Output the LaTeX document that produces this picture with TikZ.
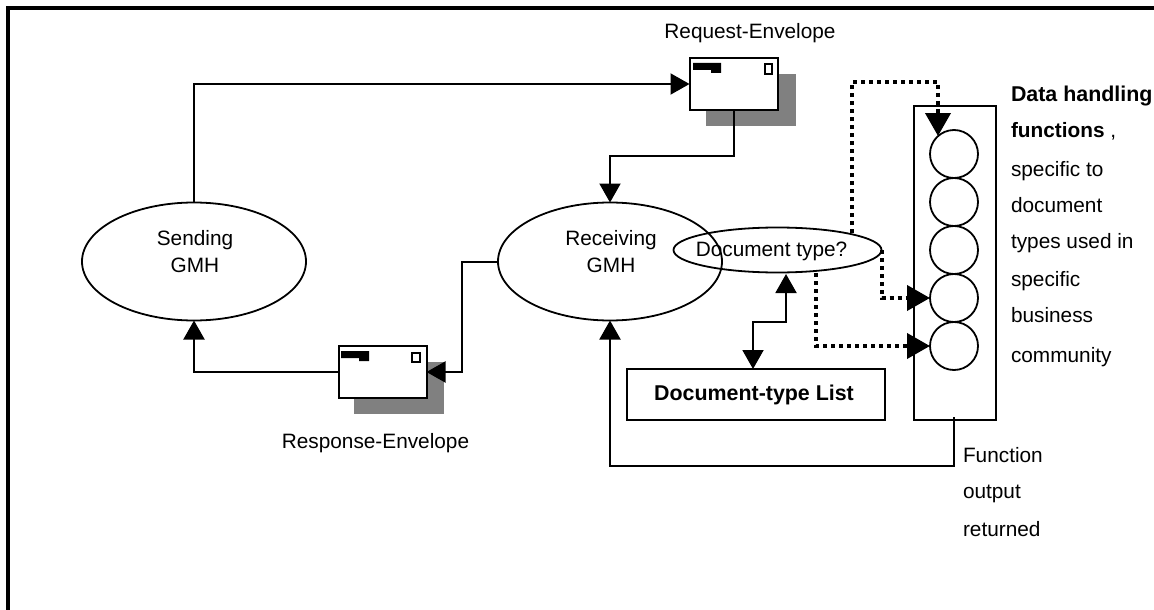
\documentclass[tikz,border=0pt]{standalone}
\usepackage{fontspec}
\setmainfont{Liberation Sans}
\usetikzlibrary{arrows.meta,shapes.geometric}
\tikzset{
    every node/.style={outer sep=0pt},
    line/.style={draw,line width=2pt},
    tip/.style={-{Triangle[length=19pt,width=21pt]}},
    tips/.style={{Triangle[length=19pt,width=21pt]}-{Triangle[length=19pt,width=21pt]}},
    dots/.style={draw,line width=4pt,dash pattern=on 4pt off 4pt,-{Triangle[length=23pt,width=25pt]}},
    oval/.style={draw,ellipse,line width=1.8pt,inner sep=0pt},
    func/.style={draw,circle,line width=1.8pt,minimum size=48pt,inner sep=0pt},
    envelope/.style={draw,line width=2pt,fill=white,minimum width=88pt,minimum height=52pt,inner sep=0pt},
    shadow/.style={fill=black!50},
    lbl/.style={inner sep=0pt,font=\fontsize{20.8pt}{27pt}\selectfont},
    side/.style={lbl,anchor=base west},
    boldlbl/.style={font=\fontsize{21.4pt}{27pt}\selectfont\bfseries},
}
\begin{document}
\begin{tikzpicture}[x=1pt,y=-1pt]
    \useasboundingbox (0,0) rectangle (1154,610);
    \draw[line width=4pt] (8,610) -- (8,8) -- (1154,8);
    % envelopes
    \fill[shadow] (706,74) rectangle (796,126);
    \node[envelope] (request) at (733.5,84) {};
    \fill (693,63) rectangle (721,70) (711,66) rectangle (721,73);
    \draw[line width=2pt] (764.5,64) rectangle (772,74);
    \fill[shadow] (354,362) rectangle (444,414);
    \node[envelope] (response) at (382.5,372) {};
    \fill (341,351) rectangle (369,358) (359,354) rectangle (369,361);
    \draw[line width=2pt] (412,353) rectangle (420,362);
    \node[lbl,anchor=base] (requestlabel) at (750,39) {Request-Envelope};
    \node[lbl,anchor=base] (responselabel) at (375.5,448) {Response-Envelope};
    % ovals
    \node[oval,minimum width=224pt,minimum height=118pt] (sending) at (194,261.5) {};
    \node[oval,minimum width=224pt,minimum height=118pt] (receiving) at (610,261.5) {};
    \node[oval,minimum width=208pt,minimum height=45pt] (doctype) at (777.5,250) {};
    \node[lbl,align=center] (sendingtext) at (195,252) {Sending\\GMH};
    \node[lbl,align=center] (receivingtext) at (611,252) {Receiving\\GMH};
    \node[lbl,anchor=base] (doctypetext) at (771.5,256) {Document type?};
    % list and functions
    \node[draw,line width=2pt,minimum width=258pt,minimum height=51pt,inner sep=0pt,boldlbl] (doclist) at (755.5,394.5) {};
    \node[lbl,boldlbl,anchor=base] (doclisttext) at (754,400) {Document-type List};
    \node[draw,line width=2pt,minimum width=82pt,minimum height=314pt] (funcbox) at (955,263) {};
    \foreach \i/\y in {1/154,2/202,3/250,4/298,5/346}
        \node[func] (func\i) at (954,\y) {};
    % text on the right
    \node[side,boldlbl] (t1) at (1011,102) {Data handling};
    \node[side] (t2) at (1011,137) {\textbf{functions} ,};
    \node[side] (t3) at (1011,176) {specific to};
    \node[side] (t4) at (1011,212) {document};
    \node[side] (t5) at (1011,248) {types used in};
    \node[side] (t6) at (1011,286) {specific};
    \node[side] (t7) at (1011,322) {business};
    \node[side] (t8) at (1011,362) {community};
    \node[side] (t9) at (963,462) {Function};
    \node[side] (t10) at (963,498) {output};
    \node[side] (t11) at (963,536) {returned};
    % connectors
    \draw[line,tip] (sending.north) |- (request.west);
    \coordinate (a1) at (733.5,156);
    \draw[line,tip] (request.south) -- (a1) -| (receiving.north);
    \coordinate (a2) at (462,261.5);
    \draw[line,tip] (receiving.west) -- (a2) |- (response.east);
    \draw[line,tip] (response.west) -| (sending.south);
    \coordinate (a3) at (786,322);
    \coordinate (a4) at (753,322);
    \coordinate (a6) at (786,274);
    \draw[line,tips] (a6) -- (a3) -- (a4) -- (doclist.north -| a4);
    \coordinate (a5) at (954,466);
    \coordinate (a7) at (954,417);
    \draw[line,tip] (a7) -- (a5) -| (receiving.south);
    % dotted ones
    \coordinate (d0) at (852,233);
    \coordinate (d1) at (852,82);
    \coordinate (d2) at (938,82);
    \coordinate (d3) at (938,136);
    \draw[dots] (d0) -- (d1) -- (d2) -- (d3);
    \draw[dots] (doctype.east) |- (func4.west);
    \coordinate (d4) at (816,273);
    \draw[dots] (d4) |- (func5.west);
\end{tikzpicture}
\end{document}
